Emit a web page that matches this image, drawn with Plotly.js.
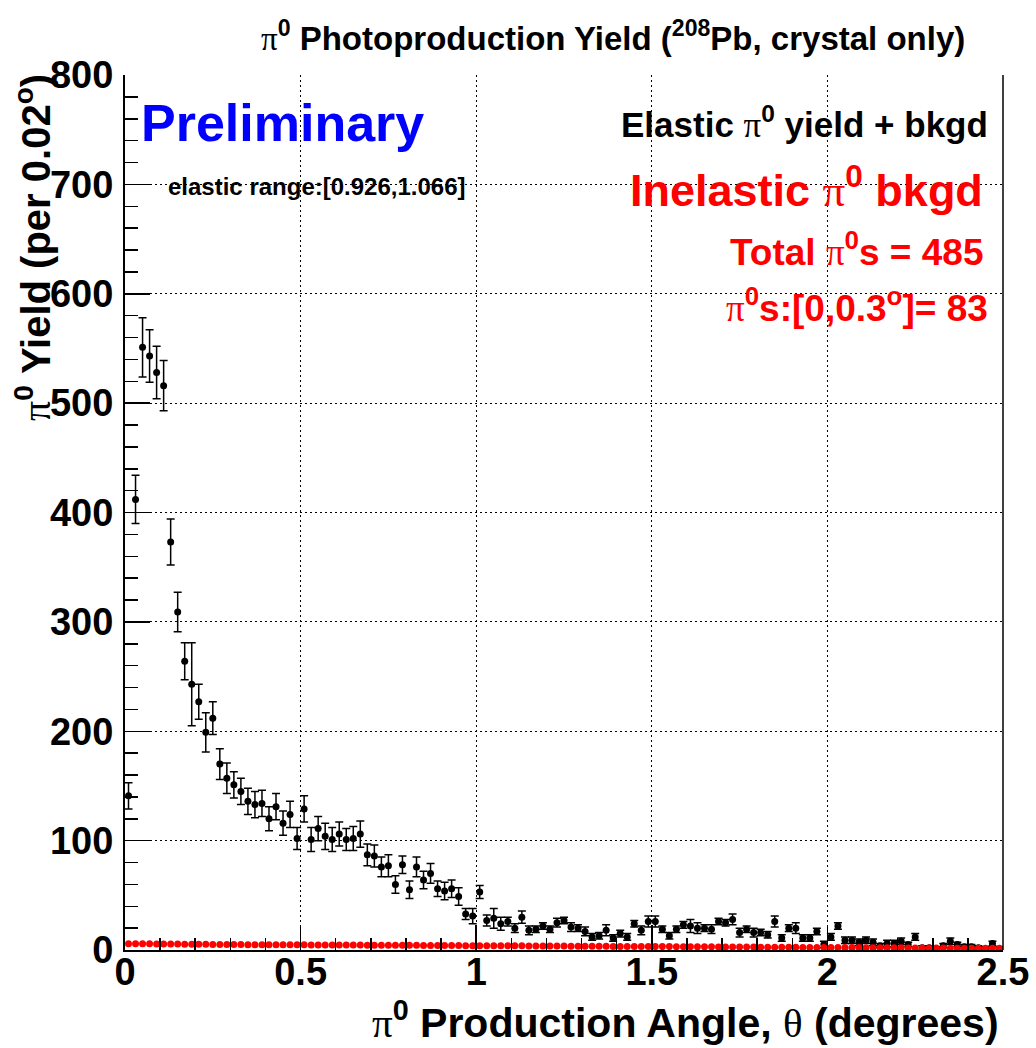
<!DOCTYPE html>
<html>
<head>
<meta charset="utf-8">
<script src="https://cdn.plot.ly/plotly-3.0.1.min.js"></script>
<style>
  html, body { margin: 0; padding: 0; background: #ffffff; }
  #chart { width: 1036px; height: 1048px; }
</style>
</head>
<body>
<div id="chart"></div>
<script>
// Bin centres (degrees), 0.02 degree bins
var angle = [
  0.01,0.03,0.05,0.07,0.09,0.11,0.13,0.15,0.17,0.19,
  0.21,0.23,0.25,0.27,0.29,0.31,0.33,0.35,0.37,0.39,
  0.41,0.43,0.45,0.47,0.49,0.51,0.53,0.55,0.57,0.59,
  0.61,0.63,0.65,0.67,0.69,0.71,0.73,0.75,0.77,0.79,
  0.81,0.83,0.85,0.87,0.89,0.91,0.93,0.95,0.97,0.99,
  1.01,1.03,1.05,1.07,1.09,1.11,1.13,1.15,1.17,1.19,
  1.21,1.23,1.25,1.27,1.29,1.31,1.33,1.35,1.37,1.39,
  1.41,1.43,1.45,1.47,1.49,1.51,1.53,1.55,1.57,1.59,
  1.61,1.63,1.65,1.67,1.69,1.71,1.73,1.75,1.77,1.79,
  1.81,1.83,1.85,1.87,1.89,1.91,1.93,1.95,1.97,1.99,
  2.01,2.03,2.05,2.07,2.09,2.11,2.13,2.15,2.17,2.19,
  2.21,2.23,2.25,2.27,2.29,2.31,2.33,2.35,2.37,2.39,
  2.41,2.43,2.45,2.47,2.49
];

// Elastic pi0 yield + bkgd (black points)
var elasticYield = [
  141,412,551,543,528,516,373,309,264,243,
  227,199,212,170,157,151,145,136,133,134,
  120,131,116,124,102,129,101,111,104,101,
  106,101,102,106,87,86,76,77,60,78,
  55,76,64,70,56,54,56,49,33,31,
  53,27,29,24,26,20,30,18,19,22,
  19,25,27,21,20,17,12,13,18,11,
  15,12,24,18,26,26,19,13,19,23,
  22,20,20,19,26,25,28,16,19,16,
  16,14,26,11,20,20,11,11,17,5,
  12,22,9,9,7,9,7,4,6,6,
  8,5,12,2,2,1,4,8,5,3,
  3,2,1,6,1
];

// Statistical errors on the black points
var elasticErr = [
  12,22,27,24,24,23,21,18,17,38,
  16,18,15,14,14,12,12,12,12,12,
  11,12,11,12,10,12,11,11,12,11,
  11,10,11,12,10,10,9,10,8,8,
  8,9,8,9,7,8,8,8,5,7,
  6,5,9,6,4,4,5.6,4,3,3,
  3,4,3,4,3,4,3,3,5,3,
  3,3,3,4,5,5,3,3,3,3,
  6,5,3,4,3,3,5,4,3,4,
  3,3,5,3,3,5,3,3,3,3,
  3,3,3,3,3,3,3,2,3,3,
  3,2,3,2,2,2,2,3,2,2,
  2,2,2,2,2
];

// Inelastic pi0 bkgd (red points)
var inelasticBkgd = [
  5.8,5.8,5.7,5.7,5.6,5.5,5.4,5.4,5.3,5.3,
  5.2,5.2,5.1,5.1,5.0,5.0,5.0,4.9,4.9,4.9,
  4.8,4.8,4.8,4.7,4.7,4.7,4.6,4.6,4.6,4.6,
  4.5,4.5,4.5,4.5,4.4,4.4,4.4,4.4,4.3,4.3,
  4.3,4.3,4.2,4.2,4.2,4.1,4.1,4.1,4.0,4.0,
  4.0,3.9,3.9,3.9,3.8,3.8,3.8,3.7,3.7,3.7,
  3.6,3.6,3.6,3.5,3.5,3.5,3.4,3.4,3.4,3.3,
  3.3,3.3,3.2,3.2,3.2,3.1,3.1,3.1,3.0,3.0,
  3.0,2.9,2.9,2.9,2.8,2.8,2.8,2.7,2.7,2.7,
  2.6,2.6,2.6,2.5,2.5,2.5,2.4,2.4,2.4,2.3,
  2.3,2.3,2.2,2.2,2.2,2.1,2.1,2.1,2.0,2.0,
  2.0,1.9,1.9,1.9,1.8,1.8,1.8,1.7,1.7,1.7,
  1.6,1.6,1.6,1.5,1.5
];

var xTickVals = [0, 0.5, 1, 1.5, 2, 2.5];
var xTickText = ['0', '0.5', '1', '1.5', '2', '2.5'];
var yTickVals = [0, 100, 200, 300, 400, 500, 600, 700, 800];
var yTickText = ['0', '100', '200', '300', '400', '500', '600', '700', '800'];

var FONT = 'Liberation Sans, Arial, Helvetica, sans-serif';
var SERIF = "Liberation Serif, 'Times New Roman', serif";
var PI = '<span style="font-family:' + SERIF + ';font-weight:normal">\u03c0</span>';
var THETA = '<span style="font-family:' + SERIF + ';font-weight:normal">\u03b8</span>';

var W = 1036, H = 1048;
var L = 125, R = 33, T = 75, B = 98;
var PW = W - L - R, PH = H - T - B;
function px(x) { return (x - L) / PW; }
function py(y) { return (H - B - y) / PH; }

var traces = [
  {
    x: angle, y: elasticYield, type: 'scatter', mode: 'markers',
    marker: { color: '#000000', size: 7 },
    error_y: { type: 'data', array: elasticErr, visible: true, color: '#000000', thickness: 1.5, width: 4 },
    hoverinfo: 'x+y', showlegend: false
  },
  {
    x: angle, y: inelasticBkgd, type: 'scatter', mode: 'markers',
    marker: { color: '#ff0000', size: 7 },
    hoverinfo: 'x+y', showlegend: false
  }
];

function box(x0, x1, y0, y1) {
  return { type: 'rect', xref: 'paper', yref: 'paper', x0: px(x0), x1: px(x1), y0: py(y1), y1: py(y0),
           fillcolor: '#ffffff', line: { width: 0 }, layer: 'between' };
}

var layout = {
  width: W, height: H,
  margin: { l: L, r: R, t: T, b: B, pad: 0 },
  paper_bgcolor: '#ffffff', plot_bgcolor: '#ffffff',
  font: { family: FONT, color: '#000000' },
  showlegend: false,
  xaxis: {
    range: [0, 2.5], tickmode: 'array', tickvals: xTickVals, ticktext: xTickText,
    ticks: 'inside', ticklen: 25, tickwidth: 1.5, tickcolor: '#000000',
    minor: { dtick: 0.1, ticks: 'inside', ticklen: 12, tickwidth: 1.5, tickcolor: '#000000', showgrid: false },
    showgrid: true, gridcolor: '#000000', gridwidth: 1.2, griddash: '2px,3px',
    zeroline: false, showline: true, linecolor: '#000000', linewidth: 2, mirror: false,
    tickfont: { family: FONT, size: 38, color: '#000000', weight: 'bold' },
    ticklabelstandoff: -13
  },
  yaxis: {
    range: [0, 800], tickmode: 'array', tickvals: yTickVals, ticktext: yTickText,
    ticks: 'inside', ticklen: 25, tickwidth: 1.5, tickcolor: '#000000',
    minor: { dtick: 20, ticks: 'inside', ticklen: 13, tickwidth: 1.5, tickcolor: '#000000', showgrid: false },
    showgrid: true, gridcolor: '#000000', gridwidth: 1.2, griddash: '2px,3px',
    zeroline: false, showline: true, linecolor: '#000000', linewidth: 2, mirror: false,
    tickfont: { family: FONT, size: 38, color: '#000000', weight: 'bold' },
    ticklabelstandoff: 2
  },
  shapes: [
    box(125, 473, 83, 170),
    box(155, 473, 170, 218),
    box(615, 1002, 82, 220),
    box(723, 1002, 220, 335),
    { type: 'line', xref: 'paper', yref: 'paper', x0: 1, x1: 1, y0: 0, y1: 1,
      line: { color: '#000000', width: 1.5 }, layer: 'above' }
  ],
  annotations: [
    { text: PI + '<sup><b>0</b></sup><b> Photoproduction Yield (</b><sup><b>208</b></sup><b>Pb, crystal only)</b>',
      xref: 'paper', yref: 'paper', x: px(967), y: py(36), xanchor: 'right', yanchor: 'middle',
      showarrow: false, font: { family: FONT, size: 33, color: '#000000' } },
    { text: PI + '<sup><b>0</b></sup><b> Yield (per 0.02</b><sup><b>o</b></sup><b>)</b>',
      xref: 'paper', yref: 'paper', x: px(33), y: py(248), xanchor: 'center', yanchor: 'middle',
      textangle: -90, showarrow: false, font: { family: FONT, size: 40, color: '#000000' } },
    { text: PI + '<sup><b>0</b></sup><b> Production Angle, </b>' + THETA + '<b> (degrees)</b>',
      xref: 'paper', yref: 'paper', x: px(1001), y: py(1020), xanchor: 'right', yanchor: 'middle',
      showarrow: false, font: { family: FONT, size: 41, color: '#000000' } },
    { text: '<b>Preliminary</b>',
      xref: 'paper', yref: 'paper', x: px(139), y: py(123), xanchor: 'left', yanchor: 'middle',
      showarrow: false, font: { family: FONT, size: 52, color: '#0000ff' } },
    { text: '<b>elastic range:[0.926,1.066]</b>',
      xref: 'paper', yref: 'paper', x: px(166), y: py(186), xanchor: 'left', yanchor: 'middle',
      showarrow: false, font: { family: FONT, size: 24, color: '#000000' } },
    { text: '<b>Elastic </b>' + PI + '<sup><b>0</b></sup><b> yield + bkgd</b>',
      xref: 'paper', yref: 'paper', x: px(990), y: py(122), xanchor: 'right', yanchor: 'middle',
      showarrow: false, font: { family: FONT, size: 35, color: '#000000' } },
    { text: '<b>Inelastic </b>' + PI + '<sup><b>0</b></sup><b> bkgd</b>',
      xref: 'paper', yref: 'paper', x: px(985), y: py(187), xanchor: 'right', yanchor: 'middle',
      showarrow: false, font: { family: FONT, size: 45, color: '#ff0000' } },
    { text: '<b>Total </b>' + PI + '<sup><b>0</b></sup><b>s = 485</b>',
      xref: 'paper', yref: 'paper', x: px(986), y: py(249), xanchor: 'right', yanchor: 'middle',
      showarrow: false, font: { family: FONT, size: 37, color: '#ff0000' } },
    { text: PI + '<sup><b>0</b></sup><b>s:[0,0.3</b><sup><b>o</b></sup><b>]= 83</b>',
      xref: 'paper', yref: 'paper', x: px(990), y: py(305), xanchor: 'right', yanchor: 'middle',
      showarrow: false, font: { family: FONT, size: 37, color: '#ff0000' } }
  ]
};

Plotly.newPlot('chart', traces, layout, { staticPlot: true, displayModeBar: false });
</script>
</body>
</html>
